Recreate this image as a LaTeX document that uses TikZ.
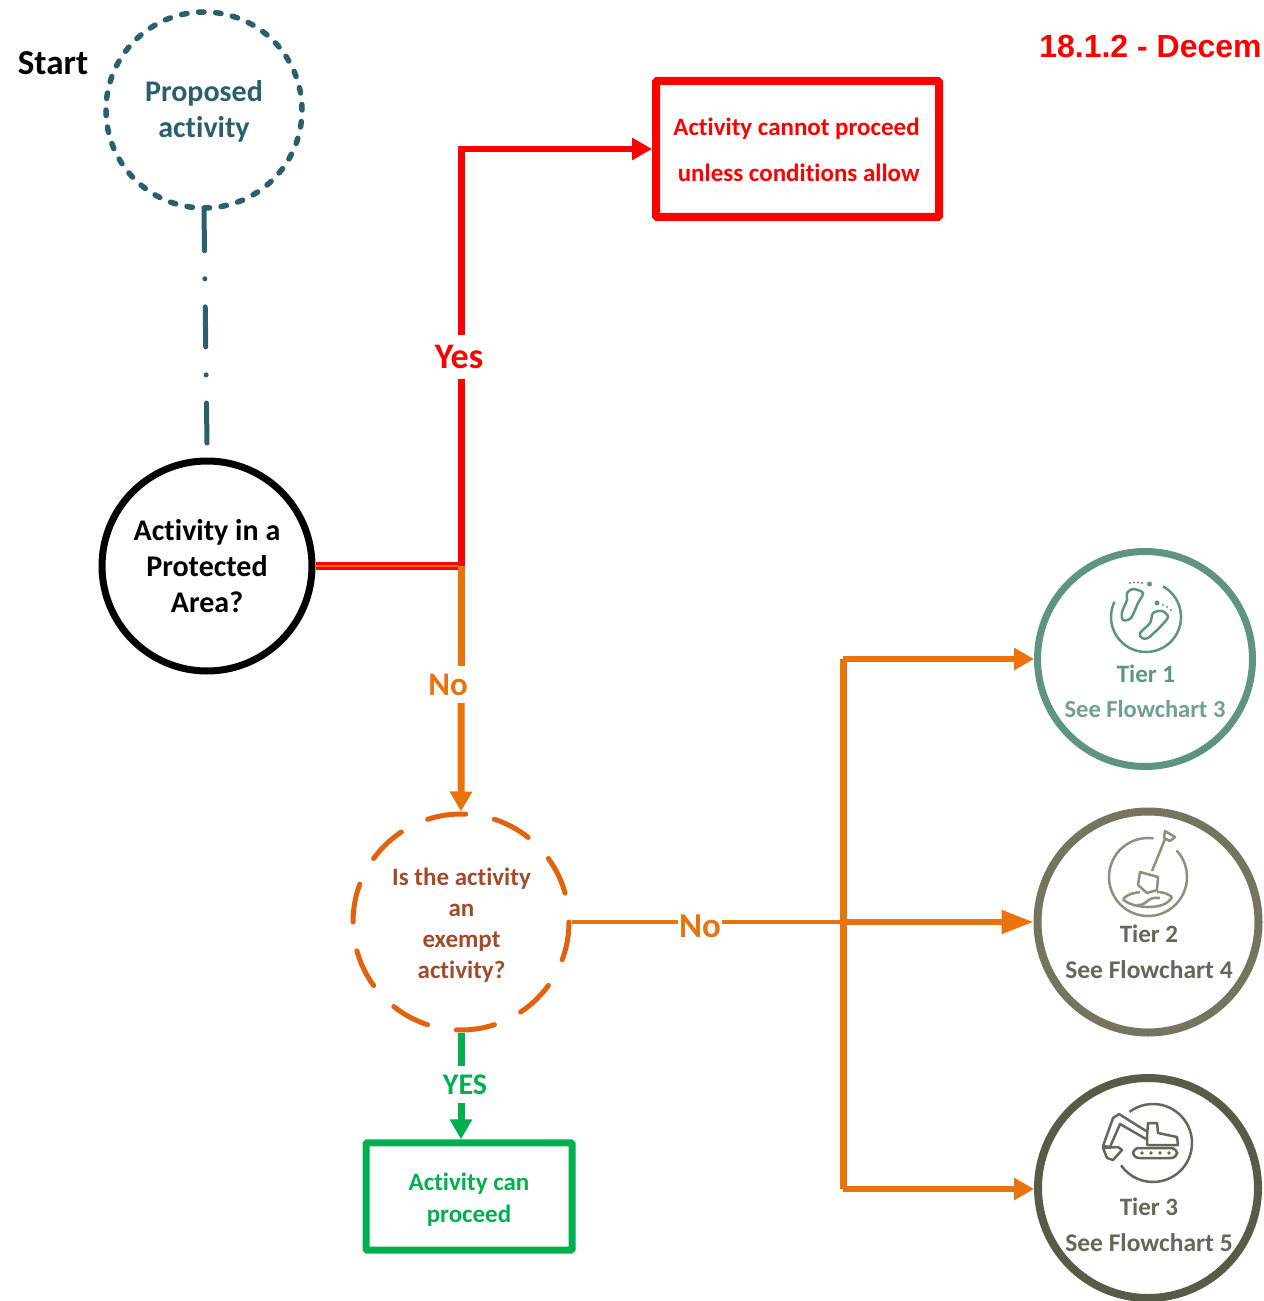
\documentclass[tikz,border=0pt]{standalone}
\usepackage{fontspec}
\setmainfont[Ligatures=NoCommon]{Carlito}
\newfontfamily\headfont{Liberation Sans}
\usetikzlibrary{arrows.meta}
\definecolor{tealc}{HTML}{2A5F6B}
\definecolor{orangec}{HTML}{E9730F}
\definecolor{dashorange}{HTML}{E3620F}
\definecolor{greenc}{HTML}{00B050}
\definecolor{brownc}{HTML}{A44A2C}
\definecolor{tierA}{HTML}{5F9484}
\definecolor{tierAt}{HTML}{6FA092}
\definecolor{tierB}{HTML}{75755F}
\definecolor{tierBi}{HTML}{8C917E}
\definecolor{tierBt}{HTML}{66665A}
\definecolor{tierC}{HTML}{5A5A48}
\definecolor{tierCi}{HTML}{66665A}
\newcommand\pxfont[1]{\pgfmathsetmacro\fsz{#1*0.75}\pgfmathsetmacro\bsz{#1*0.9}\fontsize{\fsz pt}{\bsz pt}\selectfont}
\tikzset{
  px/.style={line width=#1*0.75pt},
  txt/.style={font=\bfseries\pxfont{#1}, inner sep=0pt, align=center},
  lbl/.style={font=\bfseries\pxfont{#1}, fill=white, inner sep=1.5pt},
  tip/.style={-{Triangle[length=15pt,width=16pt]}},
  longtip/.style={-{Triangle[length=24pt,width=17pt]}},
  ring/.style={circle, draw, inner sep=0pt, minimum size=#1*1.5pt},
}
\begin{document}
\begin{tikzpicture}[x=0.75pt,y=0.75pt,yscale=-1]
\useasboundingbox (0,0) rectangle (1263,1301);
\fill[white] (0,0) rectangle (1263,1301);

\node[ring=98, draw=tealc, px=5.5, dash pattern=on 4.1pt off 8.73pt, line cap=round] (proposed) at (204,110) {};
\node[txt=30, text=tealc] (proposedt) at (204,111.5) {Proposed\\activity};
\node[txt=35] (start) at (53,63) {Start};

\node[ring=105, draw=black, px=7] (protected) at (207,566) {};
\node[txt=30] (protectedt) at (207,566) {Activity in a\\Protected\\Area?};

\node[ring=108, draw=dashorange, px=5, dash pattern=on 29pt off 21.9pt, dash phase=29pt, line cap=round] (exempt) at (461,922) {};
\node[txt=25, text=brownc] (exemptt) at (461.5,925) {Is the activity\\[0.6pt]an\\[0.6pt]exempt\\[0.6pt]activity?};

\node[rectangle, draw=red, px=8, rounded corners=1pt, minimum width=212.25pt, minimum height=102pt, inner sep=0pt] (cannot) at (797.5,149) {};
\node[txt=25, text=red, align=right] (cannott) at (796.5,150) {Activity cannot proceed\\[12.25pt]unless conditions allow};

\node[rectangle, draw=greenc, px=7, rounded corners=1pt, minimum width=154.5pt, minimum height=80.5pt, inner sep=0pt] (can) at (469,1196.5) {};
\node[txt=25, text=greenc] (cant) at (469,1200) {Activity can\\[1.75pt]proceed};

\node[ring=107.5, draw=tierA, px=7] (tierone) at (1145,659) {};
\node[txt=25, text=tierA] (tierones) at (1146,674) {Tier 1};
\node[txt=24.5, text=tierAt] (tieronef) at (1145,709) {See Flowchart 3};

\node[ring=110.5, draw=tierB, px=8] (tiertwo) at (1148,922) {};
\node[txt=25, text=tierBt] (tiertwos) at (1149,934) {Tier 2};
\node[txt=25.5, text=tierBt] (tiertwof) at (1149,970) {See Flowchart 4};

\node[ring=110, draw=tierC, px=8] (tierthree) at (1148,1188) {};
\node[txt=25, text=tierBt] (tierthrees) at (1149,1207) {Tier 3};
\node[txt=25.5, text=tierBt] (tierthreef) at (1149,1243) {See Flowchart 5};

\coordinate (teal end) at (207,444);
\coordinate (jn) at (461.5,566);
\coordinate (trunk mid) at (843,922);
\coordinate (trunk top) at (843,659);
\coordinate (trunk bot) at (843,1189);

\draw[tealc, px=5, line cap=round, dash pattern=on 30pt off 21pt on 0.1pt off 21pt] (proposed.south) -- (teal end);

\draw[red, px=8] (protected.east) -- (jn);
\draw[orangec, px=2.5] (protected.east) -- (jn);
\draw[red, px=6.5, tip] (jn) |- (cannot.west);
\draw[orangec, px=7, tip] (jn) -- (exempt.north);
\draw[orangec, px=4] (exempt.east) -- (trunk mid);
\draw[orangec, px=6, longtip] (trunk mid) -- (tiertwo.west);
\draw[orangec, px=7] (trunk top) -- (trunk bot);
\draw[orangec, px=6, tip] (trunk top) -- (tierone.west |- trunk top);
\draw[orangec, px=6, tip] (trunk bot) -- (tierthree.west |- trunk bot);
\draw[greenc, px=7, tip] (exempt.south) -- (exempt.south |- can.north);

\node[lbl=36, text=red, minimum height=33pt] (yes) at (459,357) {Yes};
\node[lbl=33, text=orangec, minimum height=28pt] (no a) at (448,684.5) {No};
\node[lbl=35, text=orangec, inner sep=0.5pt] (no b) at (700,926) {No};
\node[lbl=30, text=greenc, minimum height=28pt] (yesb) at (465,1084.5) {YES};

\begin{scope}
\clip (0,0) rectangle (1263,1301);
\node[font=\headfont\bfseries\fontsize{24pt}{28pt}\selectfont, text=red, anchor=base west, inner sep=0pt] (head) at (1039,58) {18.1.2 - Decem};
\end{scope}

% Tier 1 icon
\begin{scope}[tierA, px=2.5]
\draw (1146,617) ++(-61:35) arc[start angle=-61, end angle=206, radius=35];
\draw plot[smooth cycle] coordinates {(1133,589) (1143,593) (1138,603) (1131,618) (1123,620) (1122,612) (1127,600) (1127,593)};
\draw plot[smooth cycle] coordinates {(1162,611) (1168,617) (1160,627) (1148,638) (1142,638) (1140,633) (1150,623) (1153,613)};
\fill (1149.5,584) circle (2.5);
\fill (1157,603) circle (2.5);
\foreach \p in {(1130,583),(1134,582.5),(1138,582.5),(1142,583),(1163,605),(1167,607),(1171,610)} \fill \p circle (1.1);
\end{scope}

% Tier 2 icon
\begin{scope}[tierBi, px=2.5, line join=round]
\draw (1148,877) ++(-43:39) arc[start angle=-43, end angle=278, radius=39];
\draw (1165,839) -- (1152,871);
\draw (1165,831) -- (1175,837) -- (1170,841) -- (1164,838) -- cycle;
\draw (1140,872) -- (1158,877) -- (1157,890) -- (1147,893) -- (1138,885) -- cycle;
\draw (1123,899) .. controls (1130,892) and (1138,893) .. (1140,892);
\draw (1157,892) .. controls (1164,892) and (1168,894) .. (1172,897);
\draw (1123,899) .. controls (1130,908) and (1165,912) .. (1172,897);
\draw (1137,905) .. controls (1148,906) and (1146,896) .. (1160,898);
\end{scope}

% Tier 3 icon
\begin{scope}[tierCi, px=2.5, line join=round]
\draw (1153,1143) ++(233:39) arc[start angle=233, end angle=505, radius=39];
\draw[rounded corners=4.5pt] (1133,1148) rectangle (1177,1158);
\foreach \p in {(1142,1153),(1151,1153),(1160,1153),(1169,1153)} \fill \p circle (1.8);
\draw (1147,1145) -- (1147,1137) -- (1148,1123) -- (1157,1123) -- (1158,1133) -- (1177,1137) -- (1178,1145) -- cycle;
\draw (1146,1131) -- (1119,1114) -- (1113,1118) -- (1103,1146) -- (1110,1147) -- (1120,1124) -- (1146,1139);
\draw (1103,1148) -- (1118,1147) -- (1122,1150) -- (1113,1160) -- (1107,1158) -- cycle;
\end{scope}
\end{tikzpicture}
\end{document}
